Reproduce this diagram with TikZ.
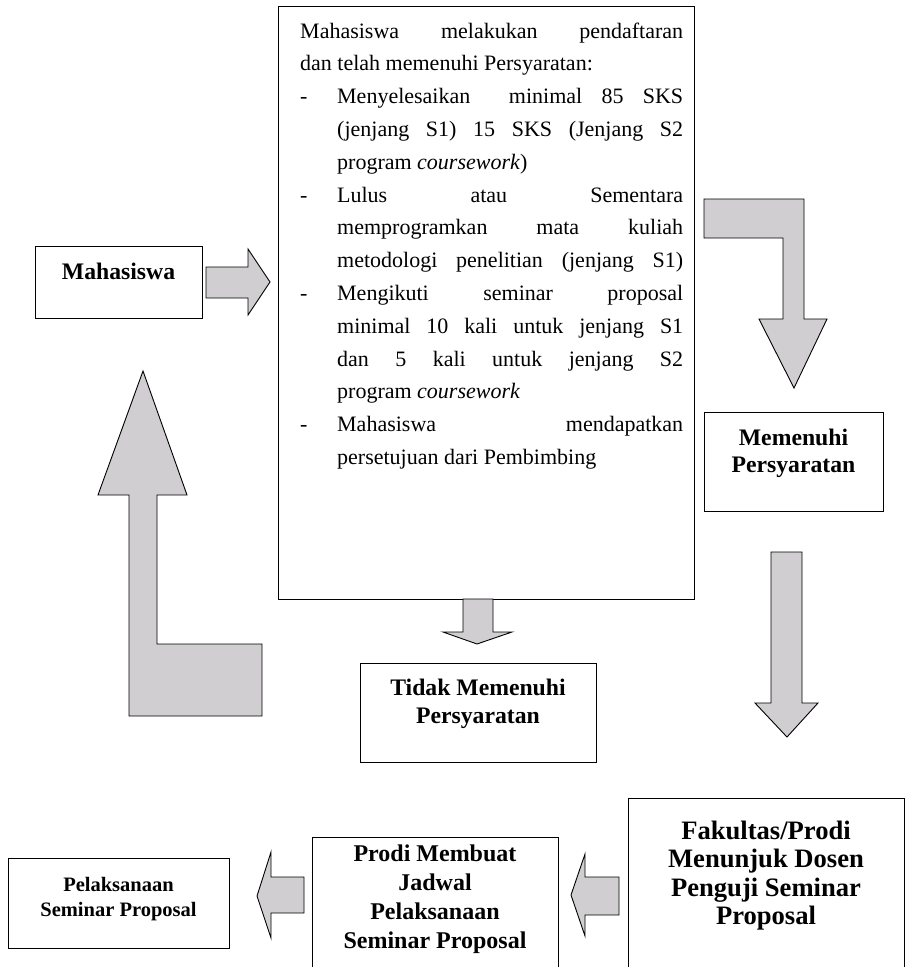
\documentclass[tikz,border=0pt]{standalone}
\usepackage{fontspec}
\setmainfont{Liberation Serif}
\definecolor{arrowgray}{RGB}{208,206,208}
\hfuzz=2pt
% lines of the requirements paragraph
\newcommand\fullline[1]{\makebox[383pt][s]{#1}\par}
\newcommand\fullrag[1]{\makebox[383pt][l]{#1}\par}
\newcommand\dashline[1]{\makebox[37pt][l]{-}\makebox[346pt][s]{#1}\par}
\newcommand\hangline[1]{\hspace*{37pt}\makebox[346pt][s]{#1}\par}
\newcommand\hangrag[1]{\hspace*{37pt}\makebox[346pt][l]{#1}\par}
\begin{document}
\begin{tikzpicture}[x=1pt,y=-1pt,
  box/.style={draw=black, line width=1.4pt, fill=white, inner sep=0pt, anchor=north west},
  blockarrow/.style={draw=black, line width=0.9pt, fill=arrowgray, line join=miter},
  lbl/.style={inner sep=0pt, anchor=base}]
\useasboundingbox (0,0) rectangle (905,967);
\begin{scope}
\clip (0,0) rectangle (905,967);

% boxes
\node[box, minimum width=416pt, minimum height=593pt] (mainbox) at (278,6) {};
\node[box, minimum width=167pt, minimum height=72pt]  (mhsbox)  at (35,246) {};
\node[box, minimum width=179pt, minimum height=99pt]  (okbox)   at (704,412) {};
\node[box, minimum width=236pt, minimum height=99pt]  (failbox) at (360,663) {};
\node[box, minimum width=276pt, minimum height=180pt] (fakbox)  at (628,798) {};
\node[box, minimum width=246pt, minimum height=140pt] (jadbox)  at (312,837) {};
\node[box, minimum width=221pt, minimum height=90pt]  (pelbox)  at (8,858) {};

% requirements text
\node[lbl, anchor=base west] (req) at (300,38) {\parbox[t]{383pt}{\fontsize{22}{32.8}\selectfont
\fullline{Mahasiswa melakukan pendaftaran}
\fullrag{dan telah memenuhi Persyaratan:}
\dashline{Menyelesaikan \ minimal 85 SKS}
\hangline{(jenjang S1) 15 SKS (Jenjang S2}
\hangrag{program \textit{coursework})}
\dashline{Lulus atau Sementara}
\hangline{memprogramkan mata kuliah}
\hangline{metodologi penelitian (jenjang S1)}
\dashline{Mengikuti seminar proposal}
\hangline{minimal 10 kali untuk jenjang S1}
\hangline{dan 5 kali untuk jenjang S2}
\hangrag{program \textit{coursework}}
\dashline{Mahasiswa mendapatkan}
\hangrag{persetujuan dari Pembimbing}}};

% box labels
\node[lbl] (mhs)  at (118.5,279) {\parbox[t]{160pt}{\centering\bfseries\fontsize{23.7}{28}\selectfont Mahasiswa}};
\node[lbl] (ok)   at (793.5,445) {\parbox[t]{170pt}{\centering\bfseries\fontsize{23.7}{27}\selectfont Memenuhi\\Persyaratan}};
\node[lbl] (fail) at (478,695)   {\parbox[t]{230pt}{\centering\bfseries\fontsize{23.7}{28}\selectfont Tidak Memenuhi\\Persyaratan}};
\node[lbl] (fak)  at (766,839)   {\parbox[t]{270pt}{\centering\bfseries\fontsize{26.6}{28.5}\selectfont Fakultas/Prodi\\Menunjuk Dosen\\Penguji Seminar\\Proposal}};
\node[lbl] (jad)  at (435,861)   {\parbox[t]{240pt}{\centering\bfseries\fontsize{24}{29}\selectfont Prodi Membuat\\Jadwal\\Pelaksanaan\\Seminar Proposal}};
\node[lbl] (pel)  at (118.5,891) {\parbox[t]{215pt}{\centering\bfseries\fontsize{20.5}{25}\selectfont Pelaksanaan\\Seminar Proposal}};

% block arrows
% Mahasiswa -> requirements
\draw[blockarrow] (206,267) -- (248,267) -- (248,249) -- (270,282) -- (248,315) -- (248,298) -- (206,298) -- cycle;
% requirements -> Memenuhi Persyaratan (bent)
\draw[blockarrow] (704,199) -- (804,199) -- (804,319) -- (827,319) -- (794,388) -- (759,319) -- (783,319) -- (783,238) -- (704,238) -- cycle;
% requirements -> Tidak Memenuhi Persyaratan
\draw[blockarrow] (463,599) -- (493,599) -- (493,632) -- (512,632) -- (477,644) -- (443,632) -- (463,632) -- cycle;
% Tidak Memenuhi -> back to Mahasiswa (bent)
\draw[blockarrow] (129,716) -- (262,716) -- (262,644) -- (157,644) -- (157,495) -- (187,495) -- (143,371) -- (98,495) -- (129,495) -- cycle;
% Memenuhi Persyaratan -> Fakultas/Prodi
\draw[blockarrow] (771,552) -- (802,552) -- (802,703) -- (818,703) -- (787,737) -- (755,703) -- (771,703) -- cycle;
% Fakultas/Prodi -> Prodi Membuat Jadwal
\draw[blockarrow] (619,877) -- (619,915) -- (585,915) -- (585,936) -- (571,895) -- (585,854) -- (585,877) -- cycle;
% Prodi Membuat Jadwal -> Pelaksanaan
\draw[blockarrow] (304,877) -- (304,913) -- (271,913) -- (271,938) -- (257,896) -- (271,852) -- (271,877) -- cycle;
\end{scope}
\end{tikzpicture}
\end{document}
